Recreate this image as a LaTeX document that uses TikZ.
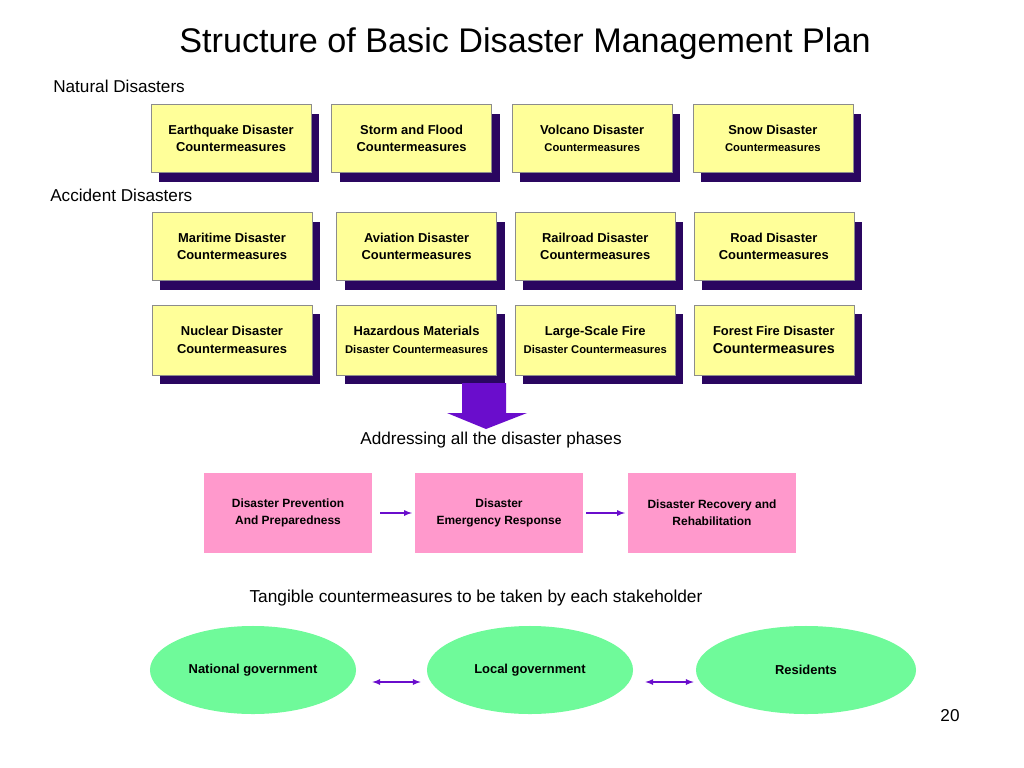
\documentclass[tikz,border=0pt]{standalone}
\usepackage{fontspec}
\setmainfont{Liberation Sans}
\usetikzlibrary{positioning, shapes.geometric, shadows, arrows}

\definecolor{plyellow}{HTML}{FFFF99}
\definecolor{plshadow}{HTML}{2A0660}
\definecolor{plpink}{HTML}{FF99CC}
\definecolor{plgreen}{HTML}{6FFA9A}
\definecolor{plpurple}{HTML}{6A0DCC}

\tikzset{
  measure/.style={draw=black!45, fill=plyellow, minimum width=4cm, minimum height=1.7cm,
    inner sep=0pt, align=center, font=\fontsize{9.2}{12.6}\selectfont\bfseries,
    drop shadow={shadow xshift=0.2cm, shadow yshift=-0.23cm, fill=plshadow, opacity=1}},
  phase/.style={fill=plpink, minimum width=4.2cm, minimum height=2cm, inner sep=0pt,
    align=center, font=\fontsize{8.5}{12.2}\selectfont\bfseries},
  holder/.style={ellipse, fill=plgreen, minimum width=5.15cm, minimum height=2.2cm,
    inner sep=0pt, font=\fontsize{9.2}{10}\selectfont\bfseries},
  heading/.style={font=\fontsize{12.2}{14}\selectfont},
  link/.style={draw=plpurple, line width=0.9pt}
}

\begin{document}
\begin{tikzpicture}[x=0.025cm, y=-0.025cm, ->, >=latex]
  \useasboundingbox (0,0) rectangle (1024,768);

  % Title and headings
  \node (title) at (525,44) {\fontsize{24.3}{28}\selectfont Structure of Basic Disaster Management Plan};
  \node[heading, anchor=west, inner sep=0pt] (natural) at (53,86) {Natural Disasters};
  \node[heading, anchor=west, inner sep=0pt] (accident) at (50,195) {Accident Disasters};

  % Natural disasters
  \node[measure] (quake) at (231,138.5) {Earthquake Disaster\\Countermeasures};
  \node[measure] (storm) [right = 0.5cm of quake] {Storm and Flood\\Countermeasures};
  \node[measure] (volcano) [right = 0.5cm of storm] {Volcano Disaster\\{\fontsize{8}{10}\selectfont Countermeasures}};
  \node[measure] (snow) [right = 0.5cm of volcano] {Snow Disaster\\{\fontsize{8}{10}\selectfont Countermeasures}};

  % Accident disasters
  \node[measure] (maritime) at (232,246.5) {Maritime Disaster\\Countermeasures};
  \node[measure] (aviation) [right = 0.6cm of maritime] {Aviation Disaster\\Countermeasures};
  \node[measure] (railroad) [right = 0.45cm of aviation] {Railroad Disaster\\Countermeasures};
  \node[measure] (road) [right = 0.45cm of railroad] {Road Disaster\\Countermeasures};

  \node[measure, minimum height=1.75cm] (nuclear) at (232,340) {Nuclear Disaster\\Countermeasures};
  \node[measure, minimum height=1.75cm] (hazmat) [right = 0.6cm of nuclear] {Hazardous Materials\\{\fontsize{8}{10}\selectfont Disaster Countermeasures}};
  \node[measure, minimum height=1.75cm] (fire) [right = 0.45cm of hazmat] {Large-Scale Fire\\{\fontsize{8}{10}\selectfont Disaster Countermeasures}};
  \node[measure, minimum height=1.75cm] (forest) [right = 0.45cm of fire] {Forest Fire Disaster\\{\fontsize{10.2}{12}\selectfont Countermeasures}};

  % Big arrow down
  \fill[plpurple] (462,383) -- (506,383) -- (506,413) -- (527,413) -- (486,429)
    -- (447,413) -- (462,413) -- cycle;
  \node[heading] (phases) at (491,440) {Addressing all the disaster phases};

  % Disaster phases
  \node[phase] (prevention) at (288,513) {Disaster Prevention\\And Preparedness};
  \node[phase] (response) at (499,513) {Disaster\\Emergency Response};
  \node[phase] (recovery) at (712,513) {Disaster Recovery and\\Rehabilitation};
  \draw[link] ([xshift=0.2cm]prevention.east) -- ([xshift=-0.07cm]response.west);
  \draw[link] ([xshift=0.07cm]response.east) -- ([xshift=-0.07cm]recovery.west);

  \node[heading, font=\fontsize{12.3}{14}\selectfont] (tangible) at (476,598) {Tangible countermeasures to be taken by each stakeholder};

  % Stakeholders
  \node[holder] (national) at (253,670) {National government};
  \node[holder] (local) at (530,670) {Local government};
  \node[holder, minimum width=5.5cm] (residents) at (806,670) {Residents};
  \draw[link, <->] ([xshift=0.4cm, yshift=-0.3cm]national.east) -- ([xshift=-0.15cm, yshift=-0.3cm]local.west);
  \draw[link, <->] ([xshift=0.3cm, yshift=-0.3cm]local.east) -- ([xshift=-0.05cm, yshift=-0.3cm]residents.west);

  \node[heading] (page) at (950,716) {20};
\end{tikzpicture}
\end{document}
